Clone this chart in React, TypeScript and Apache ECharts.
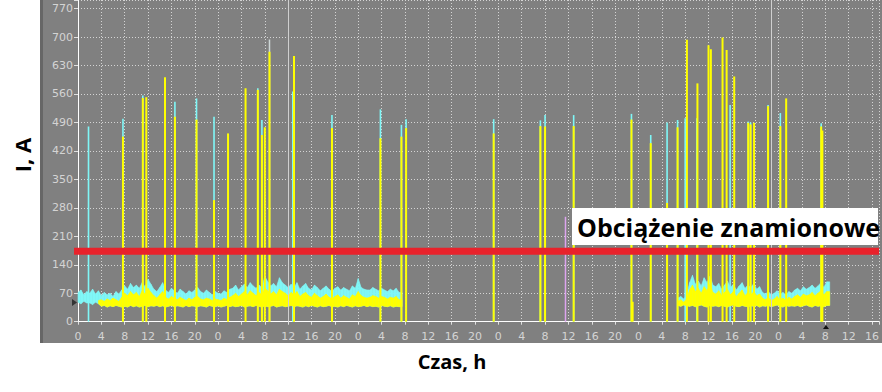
import React, { useEffect, useRef } from 'react';
import * as echarts from 'echarts';

// ---- axes ----
const X_MAX_HOURS = 137.2;
const X_TICK_HOURS = 4;
const LAST_LABEL_HOUR = 136;
const dayHourLabels = ['0', '4', '8', '12', '16', '20'];
const Y_MAX_AMPS = 791;
const Y_TICK_AMPS = 70;
const RATED_CURRENT = 173;
const ratedLineHours = [-1, 137.2];
const cursorHours = [36, 118.8];

// ---- continuous load (0.5 h bins: floor / top of the noisy band) ----
const BIN_HOURS = 0.5;
const run1Start = 0;
const run1CyanTop = [
  72, 78, 66, 74, 70, 80, 68, 76,
  64, 72, 66, 70, 62, 74, 68, 78,
  88, 80, 94, 84, 90, 82, 96, 86, 104, 92,
  80, 74, 84, 96, 78, 72, 82, 76, 70, 80, 74, 68, 76, 72, 78,
  84, 74, 70, 78, 72, 66, 74, 70, 68, 76, 72, 80,
  82, 90, 78, 86, 92, 84, 96, 88, 82, 90, 84, 112, 98, 88, 94, 86, 108, 96, 90, 84,
  92, 84, 96, 80, 88, 94, 82, 78, 90, 84, 76, 82, 88, 80, 74,
  82, 86, 78, 84, 80, 76, 88, 82, 106, 84, 80, 78,
  78, 84, 80, 76, 82, 78, 74, 80, 76, 82, 72,
];
const run1YellowTop = [
  null, null, null, null, null, null, null, 52,
  54, 50, 56, 52, 58, 54, 50, 60,
  70, 64, 74, 66, 72, 62, 76, 68, 82, 72,
  64, 58, 66, 74, 60, 56, 62, 58, 54, 60, 56, 52, 58, 54, 60,
  62, 56, 54, 58, 56, 52, 56, 54, 52, 58, 54, 60,
  64, 70, 62, 68, 74, 66, 76, 70, 64, 72, 66, 82, 76, 68, 74, 66, 80, 74, 70, 64,
  72, 66, 74, 62, 68, 72, 64, 60, 70, 64, 58, 62, 68, 60, 56,
  62, 66, 58, 64, 60, 56, 66, 62, 74, 64, 60, 58,
  60, 64, 62, 58, 62, 60, 56, 60, 58, 62, 54,
];
const run1Floor = [
  48, 44, 50, 46, 46, 42, 48, 44,
  38, 40, 36, 39, 37, 40, 38, 36,
  38, 36, 40, 37, 39, 36, 38, 40, 37, 39,
  38, 40, 37, 39, 36, 38, 40, 37, 39, 38, 36, 40, 37, 39, 38,
  37, 39, 38, 36, 40, 38, 37, 39, 36, 38, 40, 37,
  39, 37, 38, 40, 36, 38, 39, 37, 40, 38, 36, 39, 37, 38, 40, 36, 38, 39, 37, 38,
  40, 37, 39, 38, 36, 39, 37, 40, 38, 36, 39, 37, 38, 40, 37,
  38, 36, 39, 37, 40, 38, 36, 39, 37, 38, 40, 37,
  39, 37, 38, 36, 40, 38, 37, 39, 36, 38, 37,
];
const run2Start = 102.75;
const run2CyanTop = [
  58, 62, 56, 64,
  96, 114, 92, 100, 88, 108, 96, 112, 90,
  86, 94, 80, 90, 100, 84, 92, 78, 88, 96, 82,
  90, 84, 94, 80, 86,
  72, 68, 74, 66, 70, 76, 68, 72, 66, 74, 70,
  78, 82, 76, 86, 80, 84, 90, 82, 88, 96, 84, 98,
];
const run2YellowTop = [
  50, 54, 48, 56,
  78, 90, 74, 82, 70, 86, 76, 92, 72,
  68, 76, 64, 72, 80, 66, 74, 62, 70, 78, 64,
  72, 66, 74, 64, 68,
  58, 54, 60, 52, 56, 62, 54, 58, 52, 60, 56,
  62, 66, 60, 68, 64, 66, 72, 64, 70, 76, 66, 74,
];
const run2Floor = [
  40, 38, 41, 39,
  38, 40, 37, 39, 41, 38, 36, 40, 38,
  39, 37, 40, 38, 36, 39, 41, 38, 37, 40, 38,
  37, 39, 38, 40, 36,
  39, 38, 40, 37, 39, 41, 38, 36, 40, 38, 39,
  38, 40, 37, 39, 41, 38, 36, 40, 38, 39, 37, 40,
];

// ---- short current peaks ----
const cyanSpikeHours = [1.8, 7.7, 11.1, 16.6, 20.3, 23.3, 30.8, 31.5, 36.8, 43.5, 51.8, 55.4, 56.2, 71.2, 79.2, 80.0, 84.9, 94.8, 98.1, 100.9, 102.7, 104.0, 106.0, 111.7, 114.8, 115.2, 118.2, 120.3, 127.3];
const cyanSpikeAmps = [480, 499, 556, 541, 549, 504, 574, 496, 566, 508, 522, 484, 498, 498, 495, 508, 508, 511, 459, 490, 496, 500, 500, 533, 492, 490, 533, 513, 488];
const yellowSpikeHours = [7.7, 11.1, 11.7, 14.9, 16.6, 20.3, 23.3, 25.7, 28.7, 30.8, 31.5, 32.0, 32.8, 37.0, 43.5, 51.8, 55.4, 56.2, 71.2, 79.2, 80.0, 84.9, 94.8, 95.0, 98.1, 100.9, 102.7, 104.3, 106.1, 108.0, 108.4, 110.4, 111.1, 112.4, 114.8, 115.2, 115.8, 118.2, 120.3, 121.3, 127.3, 127.5];
const yellowSpikeAmps = [455, 550, 552, 601, 504, 497, 299, 463, 574, 570, 459, 478, 664, 653, 476, 451, 455, 476, 463, 481, 480, 481, 497, 49, 439, 292, 478, 693, 586, 680, 670, 699, 668, 603, 489, 485, 489, 530, 481, 549, 480, 470];
const paleSpikeHours = [32.8];
const paleSpikeAmps = [694];
const violetSpikeHours = [83.5];
const violetSpikeAmps = [258];

const CYAN = '#7ff7f7';
const YELLOW = '#ffff00';

// each item: [hour, floor, top, nextFloor, nextTop]
function bandData(start: number, floor: number[], top: (number | null)[]) {
  const out: number[][] = [];
  top.forEach((t, i) => {
    if (t === null) return;
    const nt = i + 1 < top.length && top[i + 1] !== null ? (top[i + 1] as number) : t;
    const nf = i + 1 < floor.length ? floor[i + 1] : floor[i];
    out.push([start + i * BIN_HOURS, floor[i], t, nf, nt]);
  });
  return out;
}

function spikeData(hours: number[], amps: number[]) {
  return hours.map((h, i) => [h, amps[i]]);
}

const bandItem = (color: string) => (_p: any, api: any) => {
  const h = api.value(0);
  const p1 = api.coord([h, api.value(1)]);
  const p2 = api.coord([h, api.value(2)]);
  const p3 = api.coord([h + BIN_HOURS, api.value(4)]);
  const p4 = api.coord([h + BIN_HOURS, api.value(3)]);
  return {
    type: 'polygon',
    shape: { points: [p1, p2, p3, p4] },
    style: { fill: color, stroke: color, lineWidth: 0.6 },
  };
};

const spikeItem = (color: string, w: number) => (_p: any, api: any) => {
  const h = api.value(0);
  const a = api.coord([h, 0]);
  const b = api.coord([h, api.value(1)]);
  return {
    type: 'rect',
    shape: { x: a[0] - w / 2, y: b[1], width: w, height: a[1] - b[1] },
    style: { fill: color },
  };
};

export default function App() {
  const ref = useRef<HTMLDivElement>(null);
  useEffect(() => {
    if (!ref.current) return;
    const chart = echarts.init(ref.current, undefined, { renderer: 'svg' });
    const dotted = { color: '#d4d4d4', width: 1, type: [1, 2] as any };
    chart.setOption({
      animation: false,
      grid: { left: 78, right: 0, top: 0, bottom: 70.3 },
      xAxis: {
        type: 'value',
        min: 0,
        max: X_MAX_HOURS,
        interval: X_TICK_HOURS,
        offset: 3,
        axisLine: { show: true, lineStyle: { color: '#ffffff', width: 1 } },
        axisTick: { show: true, length: 3, lineStyle: { color: '#e0e0e0' } },
        axisLabel: {
          color: '#d4d4d4',
          fontSize: 11,
          fontFamily: 'DejaVu Sans',
          margin: 6,
          formatter: (v: number) =>
            v <= LAST_LABEL_HOUR && Math.abs(v % X_TICK_HOURS) < 1e-6
              ? dayHourLabels[Math.round(v / X_TICK_HOURS) % dayHourLabels.length]
              : '',
        },
        splitLine: { show: true, lineStyle: dotted },
      },
      yAxis: {
        type: 'value',
        min: 0,
        max: Y_MAX_AMPS,
        interval: Y_TICK_AMPS,
        axisLine: { show: true, lineStyle: { color: '#ffffff', width: 1 } },
        axisTick: { show: true, length: 4, lineStyle: { color: '#e0e0e0' } },
        axisLabel: {
          color: '#d4d4d4',
          fontSize: 11,
          fontFamily: 'DejaVu Sans',
          margin: 5,
          formatter: (v: number) => (v % Y_TICK_AMPS === 0 ? String(v) : ''),
        },
        splitLine: { show: true, lineStyle: dotted },
      },
      series: [
        {
          type: 'line',
          data: [],
          silent: true,
          markLine: {
            silent: true,
            symbol: ['none', 'none'],
            label: { show: false },
            lineStyle: { color: '#cfcfcf', width: 1, type: 'solid' },
            data: cursorHours.map((h) => ({ xAxis: h })),
          },
        },
        { type: 'custom', renderItem: bandItem(CYAN), data: bandData(run1Start, run1Floor, run1CyanTop), encode: { x: 0, y: 2 }, silent: true },
        { type: 'custom', renderItem: bandItem(CYAN), data: bandData(run2Start, run2Floor, run2CyanTop), encode: { x: 0, y: 2 }, silent: true },
        { type: 'custom', renderItem: spikeItem('#cdd6d6', 1.5), data: spikeData(paleSpikeHours, paleSpikeAmps), encode: { x: 0, y: 1 }, silent: true },
        { type: 'custom', renderItem: spikeItem(CYAN, 1.6), data: spikeData(cyanSpikeHours, cyanSpikeAmps), encode: { x: 0, y: 1 }, silent: true },
        { type: 'custom', renderItem: bandItem(YELLOW), data: bandData(run1Start, run1Floor, run1YellowTop), encode: { x: 0, y: 2 }, silent: true },
        { type: 'custom', renderItem: bandItem(YELLOW), data: bandData(run2Start, run2Floor, run2YellowTop), encode: { x: 0, y: 2 }, silent: true },
        { type: 'custom', renderItem: spikeItem(YELLOW, 2), data: spikeData(yellowSpikeHours, yellowSpikeAmps), encode: { x: 0, y: 1 }, silent: true },
        { type: 'custom', renderItem: spikeItem('#dda4ee', 1.5), data: spikeData(violetSpikeHours, violetSpikeAmps), encode: { x: 0, y: 1 }, silent: true },
        {
          type: 'line',
          data: ratedLineHours.map((h) => [h, RATED_CURRENT]),
          symbol: 'none',
          clip: false,
          silent: true,
          z: 10,
          lineStyle: { color: '#e8222b', width: 7 },
        },
      ],
      graphic: [
        { type: 'rect', z: 100, shape: { x: 572, y: 208, width: 306, height: 37 }, style: { fill: '#ffffff' } },
        {
          type: 'text', z: 101, x: 577, y: 227,
          style: { text: 'Obciążenie znamionowe', fontSize: 25, fontWeight: 'bold', fontFamily: 'Open Sans', fill: '#000000', align: 'left', verticalAlign: 'middle' },
        },
        {
          type: 'text', z: 101, x: 22, y: 155, rotation: Math.PI / 2,
          style: { text: 'I, A', fontSize: 22, fontWeight: 'bold', fontFamily: 'Open Sans', fill: '#000000', align: 'center', verticalAlign: 'middle' },
        },
        {
          type: 'text', z: 101, x: 452, y: 361,
          style: { text: 'Czas, h', fontSize: 20, fontWeight: 'bold', fontFamily: 'Open Sans', fill: '#000000', align: 'center', verticalAlign: 'middle' },
        },
        { type: 'polygon', z: 101, shape: { points: [[72, 299], [77, 302.5], [72, 306]] }, style: { fill: '#333333' } },
        { type: 'polygon', z: 101, shape: { points: [[823, 329], [826, 325], [829, 329]] }, style: { fill: '#111111' } },
      ],
    });
    return () => chart.dispose();
  }, []);

  return (
    <div style={{ position: 'fixed', left: 0, top: 0, width: 882, height: 392, background: '#ffffff', overflow: 'hidden' }}>
      <div style={{ position: 'absolute', left: 40, top: 0, width: 839, height: 343, background: '#808080', borderLeft: '3px solid #666666' }} />
      <div ref={ref} style={{ position: 'absolute', left: 0, top: 0, width: 882, height: 392 }} />
    </div>
  );
}
